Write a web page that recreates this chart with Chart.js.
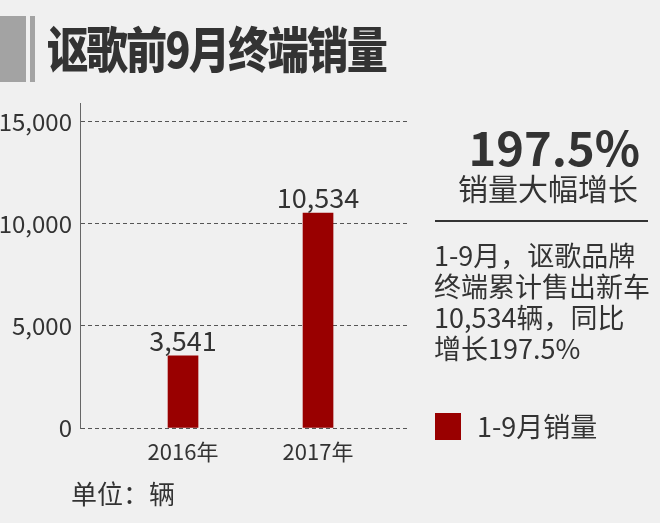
<!DOCTYPE html>
<html>
<head>
<meta charset="utf-8">
<script src="https://cdn.jsdelivr.net/npm/chart.js@4.4.0/dist/chart.umd.min.js"></script>
<style>
  html, body { margin: 0; padding: 0; background: #f0f0f0; }
  body { width: 660px; height: 523px; position: relative; overflow: hidden;
         font-family: "Noto Sans CJK SC", "Noto Sans", sans-serif; color: #333; }
  #wrap { position: absolute; left: 0; top: 0; width: 660px; height: 523px; }
  .bar1 { position: absolute; left: 0; top: 16px; width: 26px; height: 66px; background: #a3a3a3; }
  .bar2 { position: absolute; left: 30px; top: 16px; width: 5px; height: 66px; background: #a3a3a3; }
  .title { position: absolute; left: 47px; top: 11px; font-size: 49px; font-weight: 900;
           letter-spacing: -2px; line-height: 72px; white-space: nowrap; color: #333;
           transform: scaleX(0.84); transform-origin: left center; }
  .big { position: absolute; right: 20px; top: 118px; font-size: 47px; font-weight: 700;
         line-height: 56px; white-space: nowrap; }
  .sub { position: absolute; right: 22px; top: 169px; font-size: 30px; line-height: 36px; white-space: nowrap; }
  .rule { position: absolute; left: 435px; top: 220px; width: 213px; height: 2px; background: #333; }
  .para { position: absolute; left: 434px; top: 239px; font-size: 27px; line-height: 31px; white-space: nowrap; }
  .leg-box { position: absolute; left: 435px; top: 413px; width: 26px; height: 27px; background: #990000; }
  .leg-txt { position: absolute; left: 477px; top: 409px; font-size: 27px; line-height: 34px; white-space: nowrap; }
  .unit { position: absolute; left: 71px; top: 476px; font-size: 26px; line-height: 34px; white-space: nowrap; }
</style>
</head>
<body>
<div id="wrap"><canvas id="chart" width="660" height="523"></canvas></div>
<div class="bar1"></div><div class="bar2"></div>
<div class="title">讴歌前9月终端销量</div>
<div class="big">197.5%</div>
<div class="sub">销量大幅增长</div>
<div class="rule"></div>
<div class="para">1-9月，讴歌品牌<br>终端累计售出新车<br>10,534辆，同比<br>增长197.5%</div>
<div class="leg-box"></div>
<div class="leg-txt">1-9月销量</div>
<div class="unit">单位：辆</div>

<script>
var years = [2016, 2017];
var sales = [3541, 10534];
var yTicks = [0, 5000, 10000, 15000];
var seriesName = '1-9月销量';

// value labels on top of each bar
var valueLabels = {
    id: 'valueLabels',
    afterDatasetsDraw: function(chart) {
        var ctx = chart.ctx;
        var meta = chart.getDatasetMeta(0);
        ctx.save();
        ctx.font = '27px "Noto Sans CJK SC", "Noto Sans", sans-serif';
        ctx.fillStyle = '#333';
        ctx.textAlign = 'center';
        ctx.textBaseline = 'alphabetic';
        meta.data.forEach(function(bar, i) {
            ctx.fillText(sales[i].toLocaleString('en-US'), bar.x, bar.y - 5);
        });
        ctx.restore();
    }
};

var ctx = document.getElementById('chart').getContext('2d');
new Chart(ctx, {
    type: 'bar',
    data: {
        datasets: [{
            label: seriesName,
            data: years.map(function(y, i) { return {x: y, y: sales[i]}; }),
            backgroundColor: '#990000',
            barThickness: 30
        }]
    },
    options: {
        responsive: false,
        animation: false,
        layout: { padding: { left: 0, top: 103, right: 253, bottom: 55 } },
        plugins: { legend: { display: false }, tooltip: { enabled: false } },
        scales: {
            x: {
                type: 'linear',
                offset: false,
                min: 2015.237,
                max: 2017.659,
                grid: { display: false, drawTicks: false },
                border: { display: false },
                afterFit: function(s) { s.height = 40; },
                afterBuildTicks: function(s) {
                    s.ticks = years.map(function(v) { return {value: v}; });
                },
                ticks: {
                    padding: 10,
                    color: '#333',
                    font: { size: 22, family: '"Noto Sans CJK SC", "Noto Sans", sans-serif' },
                    callback: function(v) { return v + '年'; }
                }
            },
            y: {
                min: 0,
                max: 15930,
                afterFit: function(s) { s.width = 80; },
                afterBuildTicks: function(s) {
                    s.ticks = yTicks.map(function(v) { return {value: v}; });
                },
                grid: { color: '#555', lineWidth: 1, drawTicks: false },
                border: { display: true, color: '#666', width: 1, dash: [4, 3] },
                ticks: {
                    padding: 8,
                    color: '#333',
                    font: { size: 24, family: '"Noto Sans CJK SC", "Noto Sans", sans-serif' },
                    callback: function(v) { return v.toLocaleString('en-US'); }
                }
            }
        }
    },
    plugins: [valueLabels]
});
</script>
</body>
</html>
